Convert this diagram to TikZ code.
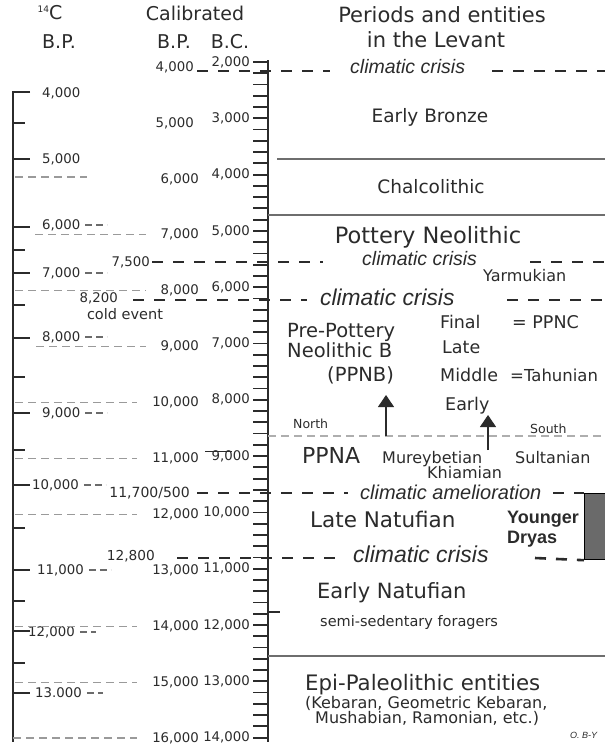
\documentclass[tikz,border=0pt]{standalone}
\usepackage{fontspec}
\setmainfont{DejaVu Sans}
\newfontfamily\arialfont{Liberation Sans}
\usetikzlibrary{arrows.meta, positioning, calc}

\definecolor{ink}{HTML}{2B2B2B}
\definecolor{calgrey}{HTML}{9A9A9A}
\definecolor{sepgrey}{HTML}{6E6E6E}
\definecolor{drygrey}{HTML}{6A6A6A}

\newcommand{\fsz}[1]{\fontsize{#1}{#1}\selectfont}

\tikzset{
  txt/.style={inner sep=0pt, anchor=base, text=ink},
  txtw/.style={inner sep=0pt, anchor=base west, text=ink},
  num/.style={inner sep=0pt, text=ink, font=\fsz{13.3}},
  crisis/.style={txtw, font=\arialfont\itshape\fsz{19.5}},
  crisisline/.style={draw=ink, line width=2.6pt, dash pattern=on 11pt off 10pt},
  calline/.style={draw=calgrey, line width=1.1pt, dash pattern=on 8pt off 5pt},
  shortdash/.style={draw=ink!70, line width=1.1pt, dash pattern=on 7pt off 4pt},
  sepline/.style={draw=sepgrey, line width=1.3pt},
  tickline/.style={draw=ink, line width=1.8pt},
  uparrow/.style={draw=ink, line width=1.1pt, -{Triangle[width=16pt,length=12pt]}},
}

\begin{document}
\begin{tikzpicture}[x=1pt,y=-1pt]
\useasboundingbox (0,0) rectangle (605,747);

% column heads
\node[txt] (hc) at (50,19) {\raisebox{7pt}{\fsz{9}14}\fsz{19}C};
\node[txt, font=\fsz{19}] (hbp) at (59,48) {B.P.};
\node[txt, font=\fsz{19}] (hcal) at (195,20) {Calibrated};
\node[txt, font=\fsz{19}] (hcbp) at (174,48) {B.P.};
\node[txt, font=\fsz{19}] (hcbc) at (230,48) {B.C.};
\node[txt, font=\fsz{21}] (hper) at (442,22) {Periods and entities};
\node[txt, font=\fsz{21}] (hlev) at (436,47) {in the Levant};

% 14C axis
\draw[draw=ink, line width=1.6pt] (30,92) -- (13,92) -- (13,742);
\foreach \y in {159,227,273,338,413,485,570,631,693}
  \draw[tickline] (13,\y) -- (30,\y);
\foreach \y in {123,250,305,377,450,528,601,663}
  \draw[draw=ink, line width=1.3pt] (13,\y) -- (25,\y);
\foreach \v/\y in {4/93,5/159,6/225,7/273,8/337,9/413}
  \node[num, anchor=west] (rc\v) at (42,\y) {\v,000};
\node[num, anchor=west] (rc10) at (32,485) {10,000};
\node[num, anchor=west] (rc11) at (37,570) {11,000};
\node[num, anchor=west] (rc12) at (28,632) {12,000};
\node[num, anchor=west] (rc13) at (35,693) {13.000};
\foreach \v in {6,7,8,9,10,11}
  \draw[shortdash] ([xshift=5pt]rc\v.east) -- ++(22,0);
\foreach \v in {12,13}
  \draw[shortdash] ([xshift=5pt]rc\v.east) -- ++(16,0);

% calibrated axis
\draw[draw=ink, line width=1.6pt] (268,60) -- (268,742);
\foreach \i in {0,...,60}
  \draw[tickline] (253,{62+11.26*\i}) -- (268,{62+11.26*\i});
\foreach \v [count=\k from 0] in {2,...,14}
  \node[num, anchor=east] (bc\v) at (250,{62+56.3*\k}) {\v,000};
\node[num, anchor=east] (bp4) at (194,67) {4,000};
\node[num, anchor=east] (bp5) at (194,123) {5,000};
\foreach \v [count=\k from 2] in {6,...,16}
  \node[num, anchor=east] (bp\v) at (199,{67+55.92*\k}) {\v,000};
\draw[draw=ink, line width=1pt] (205,451) -- (232,451);
\draw[draw=ink, line width=1.3pt] (268,612) -- (280,612);

% calibration links
\draw[calline] (15,177) -- (87,177);
\foreach \v/\x in {7/35,8/15,9/36,10/15,11/15,12/15,14/15,15/15,16/13}
  \draw[calline] (\x,0 |- bp\v.west) -- ([xshift=-15pt]bp\v.west);

% periods
\node[txt, font=\fsz{18.5}] (ebr) at (430,122) {Early Bronze};
\draw[sepline] (277,159) -- (605,159);
\node[txt, font=\fsz{18.5}] (chal) at (431,193) {Chalcolithic};
\draw[sepline] (268,215) -- (605,215);
\node[txt, font=\fsz{22.5}] (pn) at (428,243) {Pottery Neolithic};
\node[txtw, font=\fsz{16}] (yar) at (483,281) {Yarmukian};
\node[txtw, font=\fsz{19.5}] (ppnb1) at (287,337) {Pre-Pottery};
\node[txtw, font=\fsz{19.5}] (ppnb2) at (287,357) {Neolithic B};
\node[txtw, font=\fsz{19.5}] (ppnb3) at (327,381) {(PPNB)};
\node[txtw, font=\fsz{17.5}] (fin) at (440,328) {Final};
\node[txtw, font=\fsz{17.5}] (ppnc) at (512,328) {= PPNC};
\node[txtw, font=\fsz{17.5}] (lat) at (442,353) {Late};
\node[txtw, font=\fsz{17.5}] (mid) at (440,381) {Middle};
\node[txtw, font=\fsz{16.5}] (tah) at (510,381) {=Tahunian};
\node[txtw, font=\fsz{17.5}] (ear) at (445,410) {Early};
\node[txtw, font=\fsz{12.5}] (nor) at (293,428) {North};
\node[txtw, font=\fsz{12.5}] (sou) at (530,433) {South};
\draw[calline, draw=calgrey!80] (268,436) -- (605,436);
\coordinate (ar1s) at (386,436);
\coordinate (ar1e) at (386,395);
\draw[uparrow] (ar1s) -- (ar1e);
\coordinate (ar2s) at (488,450);
\coordinate (ar2e) at (488,415);
\draw[uparrow] (ar2s) -- (ar2e);
\node[txtw, font=\fsz{22}] (ppna) at (302,463) {PPNA};
\node[txtw, font=\fsz{16}] (mur) at (382,463) {Mureybetian};
\node[txtw, font=\fsz{16}] (sul) at (515,463) {Sultanian};
\node[txtw, font=\fsz{16}] (khi) at (427,478) {Khiamian};
\node[txtw, font=\fsz{21.5}] (lnat) at (310,527) {Late Natufian};
\node[txtw, font=\arialfont\bfseries\fsz{18}] (yd1) at (507,523) {Younger};
\node[txtw, font=\arialfont\bfseries\fsz{18}] (yd2) at (507,543) {Dryas};
\node[draw=black, fill=drygrey, line width=1.2pt, inner sep=0pt, minimum width=21pt,
  minimum height=66pt, anchor=north west] (ydbox) at (584,493) {};
\node[txtw, font=\fsz{21}] (enat) at (317,598) {Early Natufian};
\node[txtw, font=\fsz{14.5}] (sem) at (320,626) {semi-sedentary foragers};
\draw[sepline] (268,656) -- (605,656);
\node[txtw, font=\fsz{21.3}] (epi) at (305,690) {Epi-Paleolithic entities};
\node[txtw, font=\fsz{16}] (epi2) at (305,708) {(Kebaran, Geometric Kebaran,};
\node[txtw, font=\fsz{16}] (epi3) at (315,723) {Mushabian, Ramonian, etc.)};
\node[txtw, font=\arialfont\itshape\fsz{9}] (oby) at (570,738) {O. B-Y};

% climatic events
\coordinate (cr1a) at (197,71);
\coordinate (cr1b) at (330,71);
\node[crisis] (cr1) at (350,73) {climatic crisis};
\coordinate (cr1c) at (492,71);
\coordinate (cr1d) at (605,71);
\draw[crisisline] (cr1a) -- (cr1b);
\draw[crisisline] (cr1c) -- (cr1d);

\node[num, anchor=east] (ev75) at (150,262) {7,500};
\coordinate (cr2b) at (323,262);
\node[crisis] (cr2) at (362,265) {climatic crisis};
\coordinate (cr2c) at (530,262);
\coordinate (cr2d) at (605,262);
\draw[crisisline] ([xshift=2pt]ev75.east) -- (cr2b);
\draw[crisisline] (cr2c) -- (cr2d);

\node[num, anchor=east] (ev82) at (118,298) {8,200};
\node[txt, font=\fsz{14.5}] (cold) at (125,319) {cold event};
\coordinate (cr3a) at (133,300);
\coordinate (cr3b) at (307,300);
\node[crisis, font=\arialfont\itshape\fsz{22.8}] (cr3) at (320,305) {climatic crisis};
\coordinate (cr3c) at (507,300);
\coordinate (cr3d) at (605,300);
\draw[crisisline] (cr3a) -- (cr3b);
\draw[crisisline] (cr3c) -- (cr3d);

\node[num, anchor=east, font=\fsz{14}] (ev117) at (190,493) {11,700/500};
\coordinate (cr4a) at (197,493);
\coordinate (cr4b) at (348,493);
\node[crisis, font=\arialfont\itshape\fsz{20}] (cr4) at (360,499) {climatic amelioration};
\coordinate (cr4c) at (553,493);
\draw[crisisline] (cr4a) -- (cr4b);
\draw[crisisline] (cr4c) -- (ydbox.north west);

\node[num, anchor=east, font=\fsz{13.7}] (ev128) at (155,556) {12,800};
\coordinate (cr5a) at (177,558);
\coordinate (cr5b) at (345,558);
\node[crisis, font=\arialfont\itshape\fsz{23}] (cr5) at (353,562) {climatic crisis};
\coordinate (cr5c) at (535,558);
\draw[crisisline] (cr5a) -- (cr5b);
\draw[crisisline] (cr5c) -- (ydbox.south west);
\end{tikzpicture}
\end{document}
